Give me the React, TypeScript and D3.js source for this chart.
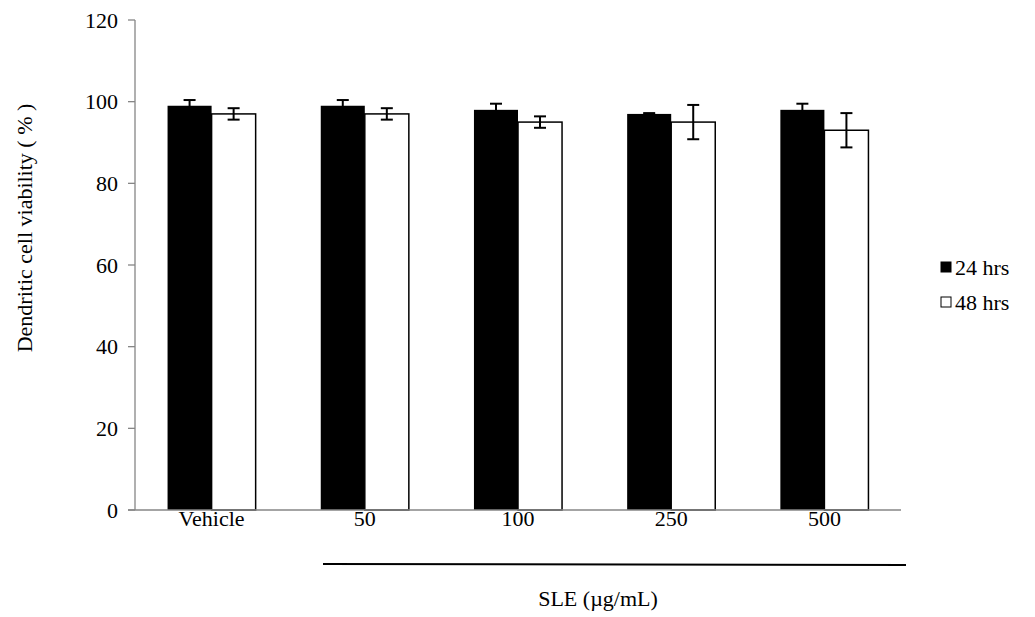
import React from "react";
import * as d3 from "d3";

const categories = ["Vehicle", "50", "100", "250", "500"];
const seriesNames = ["24 hrs", "48 hrs"];
const values24 = [99, 99, 98, 97, 98];
const errors24 = [1.4, 1.4, 1.5, 0.2, 1.5];
const values48 = [97, 97, 95, 95, 93];
const errors48 = [1.4, 1.4, 1.4, 4.2, 4.2];
const yTicks = [0, 20, 40, 60, 80, 100, 120];

const W = 1035;
const H = 617;
const FONT = "'Times New Roman', 'Liberation Serif', 'DejaVu Serif', serif";

export default function App() {
  const x = d3
    .scaleBand<string>()
    .domain(categories)
    .range([135, 901])
    .paddingInner(0.425)
    .paddingOuter(0.2125);
  const xs = d3.scaleBand<string>().domain(seriesNames).range([0, x.bandwidth()]);
  const y = d3.scaleLinear().domain([0, 120]).range([510, 20]);

  const series = [
    { name: seriesNames[0], vals: values24, errs: errors24, fill: "#000", stroke: "none" },
    { name: seriesNames[1], vals: values48, errs: errors48, fill: "#fff", stroke: "#000" },
  ];

  const sleStart = 323;
  const sleEnd = 906;
  const txt = { fontFamily: FONT, fontSize: 22, fill: "#000" } as React.CSSProperties;

  return (
    <svg width={W} height={H} style={{ position: "absolute", left: 0, top: 0, background: "#fff", fontFamily: FONT }}>
      <rect x={0} y={0} width={W} height={H} fill="#fff" />
      {series.map((s) =>
        categories.map((c, i) => {
          const bx = (x(c) as number) + (xs(s.name) as number);
          const bw = xs.bandwidth();
          return (
            <rect
              key={s.name + c}
              x={bx}
              y={y(s.vals[i])}
              width={bw}
              height={y(0) - y(s.vals[i])}
              fill={s.fill}
              stroke={s.stroke}
              strokeWidth={1.5}
            />
          );
        })
      )}
      {series.map((s) =>
        categories.map((c, i) => {
          const cx = (x(c) as number) + (xs(s.name) as number) + xs.bandwidth() / 2;
          const top = y(s.vals[i] + s.errs[i]);
          const bot = y(s.vals[i] - s.errs[i]);
          const cap = 6;
          return (
            <g key={"e" + s.name + c} stroke="#000" strokeWidth={2}>
              <line x1={cx} x2={cx} y1={top} y2={bot} />
              <line x1={cx - cap} x2={cx + cap} y1={top} y2={top} />
              <line x1={cx - cap} x2={cx + cap} y1={bot} y2={bot} />
            </g>
          );
        })
      )}
      <line x1={135} x2={135} y1={y(120)} y2={y(0)} stroke="#868686" strokeWidth={1.3} />
      {yTicks.map((t) => (
        <g key={t}>
          <line x1={128} x2={135} y1={y(t)} y2={y(t)} stroke="#868686" strokeWidth={1.3} />
          <text x={118} y={y(t)} dy="0.35em" textAnchor="end" style={txt}>
            {t}
          </text>
        </g>
      ))}
      <line x1={128} x2={901} y1={y(0)} y2={y(0)} stroke="#868686" strokeWidth={1.3} />
      {categories.map((c) => (
        <text key={c} x={(x(c) as number) + x.bandwidth() / 2} y={526} textAnchor="middle" style={txt}>
          {c}
        </text>
      ))}
      <line x1={sleStart} x2={sleEnd} y1={564} y2={565} stroke="#000" strokeWidth={2} />
      <text x={598} y={598} dy="0.35em" textAnchor="middle" style={txt}>
        SLE (µg/mL)
      </text>
      <text transform={`translate(24, 228) rotate(-90)`} textAnchor="middle" dy="0.35em" style={txt}>
        Dendritic cell viability ( % )
      </text>
      {series.map((s, i) => (
        <g key={"l" + s.name} transform={`translate(941, ${267 + i * 35})`}>
          <rect x={0} y={-5} width={10} height={10} fill={s.fill} stroke="#000" strokeWidth={1} />
          <text x={14} y={0} dy="0.35em" style={txt}>
            {s.name}
          </text>
        </g>
      ))}
    </svg>
  );
}
